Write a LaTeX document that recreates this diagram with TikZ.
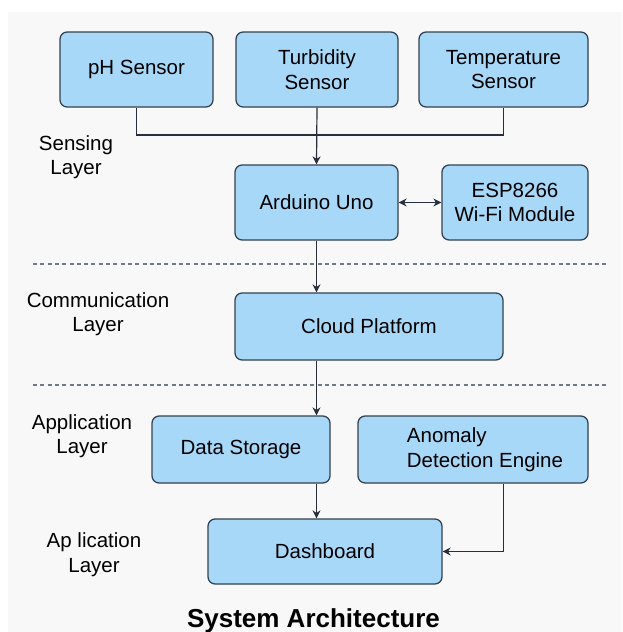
\documentclass[tikz,border=0pt]{standalone}
\usepackage{fontspec}
\setmainfont{Liberation Sans}
\usetikzlibrary{arrows.meta}
\definecolor{Sky}{HTML}{A8D8F8}
\definecolor{Slate}{HTML}{34404F}
\definecolor{Ink}{HTML}{262F3B}
\definecolor{Paper}{HTML}{F8F8F8}
\tikzset{unit/.style={draw=Slate,line width=1.3pt,rounded corners=2.5mm,fill=Sky,align=center,inner sep=0pt},link/.style={-{Stealth[length=8pt,width=8pt]},line width=1.2pt,draw=Ink},layer/.style={align=center,inner sep=0pt},split/.style={dash pattern=on 4pt off 3.3pt,line width=1.2pt,draw=Slate!70}}

\begin{document}
\begin{tikzpicture}[x=1pt,y=-1pt,font=\fontsize{20.5}{24.5}\selectfont]
\useasboundingbox (0,0) rectangle (622,632);
\fill[Paper] (8,12) rectangle (622,632);
% sensing layer
\node[unit,minimum width=153pt,minimum height=75pt] (ph) at (136.5,69.5) {pH Sensor};
\node[unit,minimum width=162pt,minimum height=75pt] (turb) at (317,69.5) {Turbidity\\Sensor};
\node[unit,minimum width=169pt,minimum height=75pt] (temp) at (503.5,69.5) {Temperature\\Sensor};
\node[unit,minimum width=163pt,minimum height=75pt] (ard) at (316.5,202.5) {Arduino Uno};
\node[unit,minimum width=146pt,minimum height=75pt] (esp) at (515,202.5) {ESP8266\\Wi-Fi Module};
\coordinate (bus) at (317,135);
\node[layer] (l1) at (76,157) {Sensing\\Layer};
% communication layer
\node[unit,minimum width=268pt,minimum height=67pt] (cloud) at (369,326.5) {Cloud Platform};
\node[layer] (l2) at (98,314) {Communication\\Layer};
% application layer
\node[unit,minimum width=178pt,minimum height=67pt] (store) at (241,449.5) {Data Storage};
\node[unit,minimum width=230pt,minimum height=67pt,align=left] (anom) at (473,449.5) {\hspace*{24pt}Anomaly\\\hspace*{24pt}Detection Engine};
\node[unit,minimum width=234pt,minimum height=65pt] (dash) at (325,551.5) {Dashboard};
\node[layer] (l3) at (82,436) {Application\\Layer};
\node[layer] (l4) at (94,554.5) {Ap lication\\Layer};
\node[font=\bfseries\fontsize{26}{30}\selectfont,anchor=base] (title) at (313.5,627) {System Architecture};
% separators
\draw[split] (33,264) -- (607,264);
\draw[split] (33,385) -- (607,385);
% connectors
\draw[draw=Ink,line width=1.2pt] (ph.south) |- (bus) -| (temp.south);
\draw[link] (turb.south) -- (ard.north);
\draw[link,{Stealth[length=8pt,width=8pt]}-{Stealth[length=8pt,width=8pt]}] (ard.east) -- (esp.west);
\draw[link] (ard.south) -- (ard.south |- cloud.north);
\draw[link] (ard.south |- cloud.south) -- (ard.south |- store.north);
\draw[link] (ard.south |- store.south) -- (ard.south |- dash.north);
\draw[link] (anom.south -| cloud.east) |- (dash.east);
\end{tikzpicture}
\end{document}
